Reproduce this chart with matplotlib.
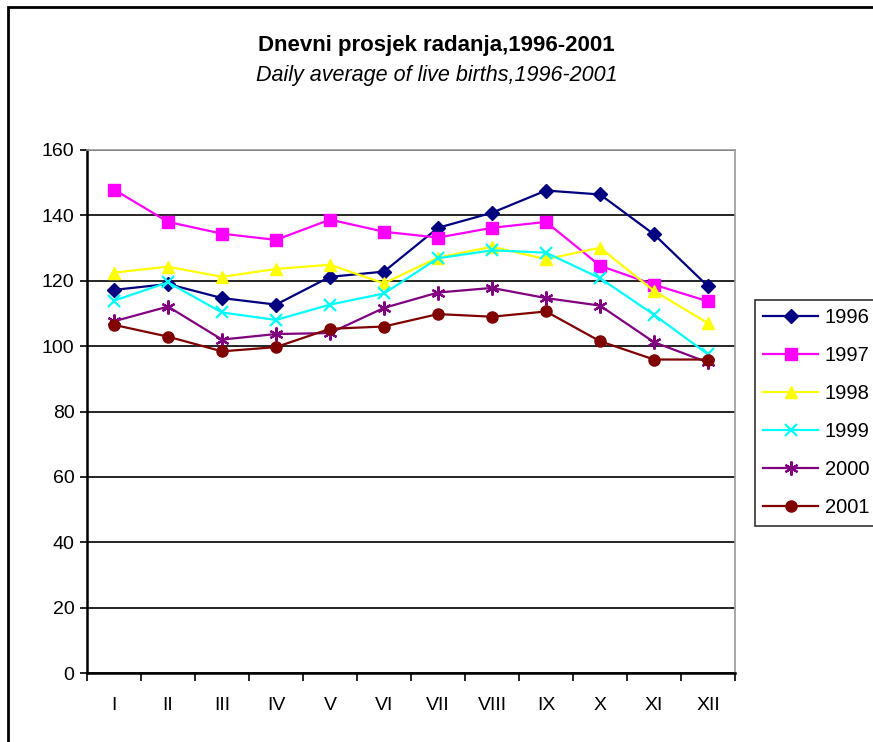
import matplotlib
matplotlib.use('Agg')
import matplotlib.pyplot as plt
from matplotlib.patches import Rectangle
from matplotlib.ticker import FixedLocator

plt.rcParams['font.family'] = ['Liberation Sans', 'DejaVu Sans']

months = ['I', 'II', 'III', 'IV', 'V', 'VI', 'VII', 'VIII', 'IX', 'X', 'XI', 'XII']
years = ['1996', '1997', '1998', '1999', '2000', '2001']

y1996 = [117.2, 119.0, 114.7, 112.7, 121.2, 122.8, 136.2, 140.8, 147.6, 146.4, 134.2, 118.3]
y1997 = [147.9, 138.0, 134.4, 132.5, 138.7, 135.0, 133.2, 136.2, 138.0, 124.6, 118.8, 113.7]
y1998 = [122.5, 124.3, 121.2, 123.6, 124.9, 119.2, 127.1, 130.4, 126.6, 130.1, 116.9, 107.0]
y1999 = [113.9, 119.5, 110.3, 108.0, 112.7, 116.1, 126.9, 129.3, 128.6, 120.8, 109.6, 97.5]
y2000 = [107.6, 112.1, 102.0, 103.7, 104.0, 111.7, 116.4, 117.8, 114.7, 112.4, 101.2, 95.0]
y2001 = [106.5, 102.9, 98.4, 99.7, 105.3, 106.0, 109.8, 109.0, 110.6, 101.5, 95.9, 95.9]

series = [y1996, y1997, y1998, y1999, y2000, y2001]
colors = ['#000080', '#FF00FF', '#FFFF00', '#00FFFF', '#800080', '#800000']
markers = ['D', 's', '^', 'x', (6, 2, 0), 'o']
msizes = [7, 8, 9, 9, 10, 8]

fig = plt.figure(figsize=(8.73, 7.42), dpi=100)
ax = fig.add_axes([87 / 873, 1 - 673 / 742, (735 - 87) / 873, (673 - 150) / 742])

x = list(range(len(months)))
for vals, name, c, m, ms in zip(series, years, colors, markers, msizes):
    ax.plot(x, vals, color=c, marker=m, markersize=ms, linewidth=1.6,
            markeredgewidth=1.6 if m in ('x', (6, 2, 0)) else 1,
            markeredgecolor=c, markerfacecolor=c, label=name, clip_on=False)

ax.set_xlim(-0.5, 11.5)
ax.set_ylim(0, 160)
ax.set_yticks(range(0, 161, 20))
ax.set_xticks(x)
ax.set_xticklabels(months)
ax.xaxis.set_minor_locator(FixedLocator([i + 0.5 for i in range(-1, 12)]))
ax.tick_params(axis='x', which='major', length=0, pad=17, labelsize=14)
ax.tick_params(axis='x', which='minor', length=6, width=1.2, direction='out')
ax.tick_params(axis='y', length=5, width=1.2, labelsize=14, pad=4)
ax.yaxis.grid(True, color='black', linewidth=1.2)
ax.set_axisbelow(True)
for s in ['top', 'right']:
    ax.spines[s].set_color('#999999')
    ax.spines[s].set_linewidth(1.2)
for s in ['left', 'bottom']:
    ax.spines[s].set_linewidth(1.8)

fig.text(0.5, 1 - 45 / 742, 'Dnevni prosjek radanja,1996-2001', ha='center', va='center',
         fontsize=16, fontweight='bold')
fig.text(0.5, 1 - 75 / 742, 'Daily average of live births,1996-2001', ha='center', va='center',
         fontsize=15.5, style='italic')

leg = fig.legend(loc='upper left', bbox_to_anchor=(755 / 873, 1 - 300 / 742), borderaxespad=0,
                 fontsize=14.5, frameon=True, fancybox=False, edgecolor='black',
                 handlelength=2.7, labelspacing=0.94, borderpad=0.42, handletextpad=0.35)
leg.get_frame().set_linewidth(1.2)

fig.patches.append(Rectangle((8 / 873, -0.1), 1.2, 1.1 - 7 / 742, transform=fig.transFigure,
                             fill=False, edgecolor='black', linewidth=2))

fig.savefig('out.png', dpi=100)
